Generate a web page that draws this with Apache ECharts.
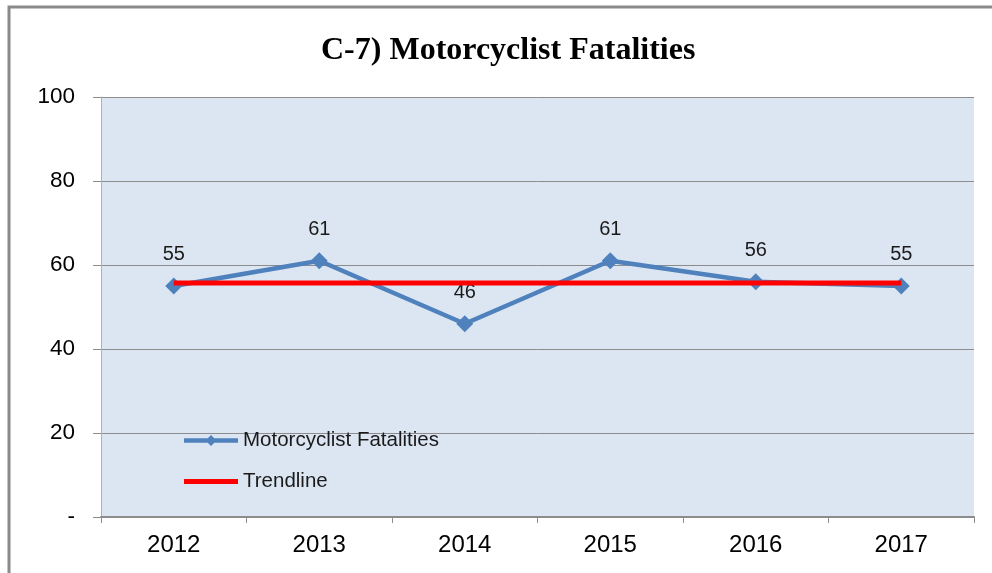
<!DOCTYPE html>
<html>
<head>
<meta charset="utf-8">
<script src="https://cdn.jsdelivr.net/npm/echarts@6/dist/echarts.min.js"></script>
<style>
html,body{margin:0;padding:0;background:#fff;}
#chart{width:992px;height:573px;}
</style>
</head>
<body>
<div id="chart"></div>
<script>
var categories = ['2012', '2013', '2014', '2015', '2016', '2017'];
var fatalities = [55, 61, 46, 61, 56, 55];
var trendline = [55.7, 55.7, 55.7, 55.7, 55.7, 55.7];
var yTicks = [0, 20, 40, 60, 80, 100];
var titleText = 'C-7) Motorcyclist Fatalities';
var seriesNames = ['Motorcyclist Fatalities', 'Trendline'];

var iconLineMarker = 'path://M0,0 M54,14 M0,4.7 H54 V9.3 H0 Z M27,1.5 L32.5,7 L27,12.5 L21.5,7 Z';
var iconLine = 'path://M0,0 M54,14 M0,4.5 H54 V9.5 H0 Z';

var chart = echarts.init(document.getElementById('chart'));
chart.setOption({
  animation: false,
  backgroundColor: '#ffffff',
  graphic: [{
    type: 'rect',
    shape: { x: 9, y: 7, width: 1000, height: 600 },
    style: { fill: 'none', stroke: '#8a8a8a', lineWidth: 3 },
    silent: true, z: 100
  }],
  title: {
    text: titleText,
    left: 316,
    top: 30,
    textStyle: { fontFamily: 'Liberation Serif', fontWeight: 'bold', fontSize: 32, color: '#000' }
  },
  legend: {
    orient: 'vertical',
    left: 184,
    top: 430,
    padding: 0,
    itemWidth: 54,
    itemHeight: 14,
    itemGap: 20,
    textStyle: { fontFamily: 'Liberation Sans', fontSize: 20.5, color: '#1a1a1a', padding: [0, 0, 0, 0] },
    data: [
      { name: seriesNames[0], icon: iconLineMarker, itemStyle: { color: '#4f81bd', borderWidth: 0 } },
      { name: seriesNames[1], icon: iconLine, itemStyle: { color: '#ff0000', borderWidth: 0 } }
    ]
  },
  grid: {
    left: 101, right: 18, top: 97, bottom: 56,
    show: true, backgroundColor: '#dce6f2', borderWidth: 0
  },
  xAxis: {
    type: 'category',
    data: categories,
    boundaryGap: true,
    axisLine: { lineStyle: { color: '#8c8c8c', width: 2 } },
    axisTick: { show: true, length: 6, lineStyle: { color: '#8c8c8c', width: 1 } },
    axisLabel: { fontFamily: 'Liberation Sans', fontSize: 24, color: '#000', margin: 16 }
  },
  yAxis: {
    type: 'value',
    min: yTicks[0],
    max: yTicks[yTicks.length - 1],
    interval: 20,
    axisLine: { show: true, lineStyle: { color: '#b0b0b0', width: 1 } },
    axisTick: { show: true, length: 8, lineStyle: { color: '#8c8c8c', width: 1 } },
    splitLine: { show: true, lineStyle: { color: '#8c8c8c', width: 1 } },
    axisLabel: {
      fontFamily: 'Liberation Sans', fontSize: 22.5, color: '#000', margin: 26,
      formatter: function (v) { return v === 0 ? '-' : String(v); }
    }
  },
  series: [{
    name: seriesNames[0],
    type: 'line',
    data: fatalities,
    symbol: 'diamond',
    symbolSize: 17,
    z: 2,
    itemStyle: { color: '#4f81bd' },
    lineStyle: { color: '#4f81bd', width: 4.5 },
    label: {
      show: true, position: 'top', distance: 13,
      fontFamily: 'Liberation Sans', fontSize: 20, color: '#1a1a1a'
    }
  }, {
    name: seriesNames[1],
    type: 'line',
    data: trendline,
    symbol: 'none',
    z: 3,
    itemStyle: { color: '#ff0000' },
    lineStyle: { color: '#ff0000', width: 5 }
  }]
});
</script>
</body>
</html>
